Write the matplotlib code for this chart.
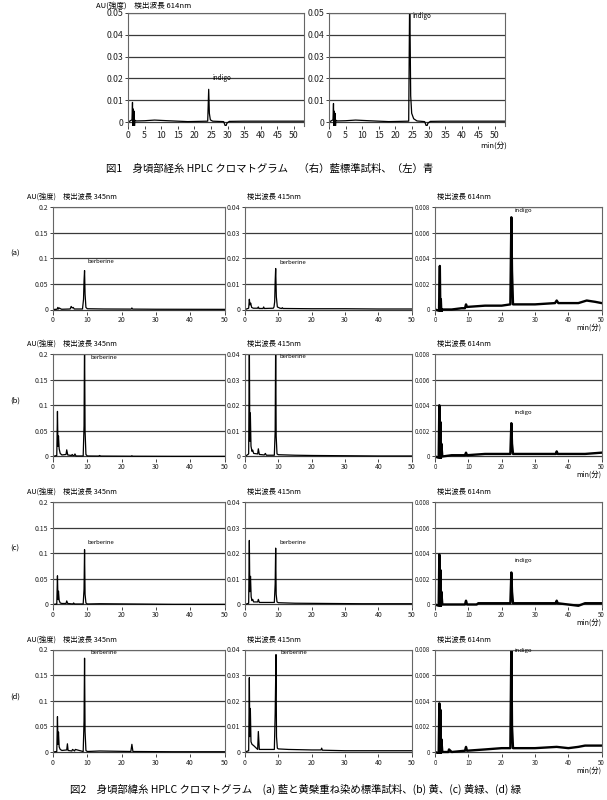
import numpy as np
import matplotlib
matplotlib.use('Agg')
import matplotlib.pyplot as plt

plt.rcParams['font.family'] = ['Noto Sans CJK JP', 'DejaVu Sans']

# ---- Fig.1 (614nm), time in min, AU
f1L_t = [0, 1.2, 1.35, 1.45, 1.55, 1.7, 1.85, 1.95, 2.1, 2.5, 5, 8, 12, 18, 24.0, 24.3, 24.5, 24.8, 25.5, 28.8, 29.4, 29.8, 30.5, 35, 45, 53]
f1L_v = [0, 0.001, 0.009, -0.002, 0.006, -0.001, 0.005, -0.002, 0.0008, 0.0005, 0.0006, 0.0009, 0.0006, 0.0002, 0.0004, 0.015, 0.004, 0.001, 0.0004, 0.0002, -0.0022, -0.0005, 0.0003, 0.0004, 0.0004, 0.0004]
f1R_t = [0, 1.2, 1.35, 1.45, 1.55, 1.7, 1.85, 1.95, 2.1, 2.5, 5, 8, 12, 18, 24.0, 24.3, 24.6, 24.9, 25.5, 26.5, 28.8, 29.4, 29.8, 30.5, 35, 45, 53]
f1R_v = [0, 0.001, 0.0085, -0.002, 0.005, -0.001, 0.004, -0.002, 0.0008, 0.0005, 0.0006, 0.0009, 0.0006, 0.0002, 0.0004, 0.06, 0.012, 0.004, 0.0015, 0.0005, 0.0002, -0.0022, -0.0005, 0.0003, 0.0004, 0.0004, 0.0004]

# ---- Fig.2 rows (a)-(d), detection 345 / 415 / 614 nm
a345_t = [0, 1.2, 1.4, 1.6, 1.8, 2.5, 5.0, 5.3, 5.6, 5.9, 6.2, 8.6, 8.9, 9.05, 9.2, 9.35, 9.6, 10, 15, 22.8, 23.0, 23.2, 30, 50]
a345_v = [0, 0.0005, 0.004, 0.001, 0.003, 0.0005, 0.001, 0.006, 0.003, 0.004, 0.001, 0.001, 0.02, 0.056, 0.076, 0.03, 0.004, 0.0015, 0.001, 0.0008, 0.003, 0.0008, 0.0005, 0.0003]
a415_t = [0, 1.1, 1.3, 1.5, 1.7, 2.0, 2.5, 3.8, 4.0, 4.2, 5.4, 5.6, 5.8, 8.5, 8.7, 8.9, 9.05, 9.2, 9.4, 9.7, 10.5, 11, 11.2, 11.4, 20, 30, 40, 50]
a415_v = [0, 0.0005, 0.004, 0.0018, 0.0025, 0.0008, 0.0005, 0.0005, 0.001, 0.0004, 0.0004, 0.001, 0.0004, 0.0005, 0.001, 0.003, 0.011, 0.016, 0.005, 0.001, 0.0005, 0.0004, 0.0007, 0.0004, 0.0003, 0.0003, 0.0002, 0.0002]
a614_t = [0, 1.2, 1.45, 1.6, 1.75, 1.9, 2.1, 5, 8, 9.0, 9.3, 9.6, 15, 20, 22.6, 22.9, 23.1, 23.4, 25, 30, 36, 36.5, 37, 40, 43, 45.5, 48, 50]
a614_v = [0, -0.0001, 0.0034, -0.0002, 0.0008, -0.0002, 0.0, 0.0, 0.0001, 0.0001, 0.0004, 0.0002, 0.0003, 0.0003, 0.0004, 0.0072, 0.003, 0.0004, 0.0004, 0.0004, 0.0005, 0.0007, 0.0005, 0.0005, 0.0005, 0.0007, 0.0006, 0.0005]

b345_t = [0, 1.1, 1.3, 1.45, 1.6, 1.8, 2.1, 2.6, 3.8, 4.0, 4.3, 5.4, 5.6, 5.8, 6.2, 6.4, 6.7, 8.8, 9.05, 9.2, 9.35, 9.6, 10, 13.3, 13.6, 13.9, 22.8, 23, 23.2, 35, 50]
b345_v = [0, 0.002, 0.088, 0.02, 0.04, 0.015, 0.006, 0.003, 0.004, 0.013, 0.003, 0.002, 0.004, 0.002, 0.002, 0.005, 0.001, 0.001, 0.06, 0.23, 0.05, 0.004, 0.001, 0.0008, 0.002, 0.0008, 0.0005, 0.0015, 0.0005, 0.0003, 0.0003]
b415_t = [0, 1.1, 1.3, 1.45, 1.6, 1.8, 2.1, 2.3, 2.6, 3.8, 4.0, 4.3, 5.8, 6.1, 6.4, 8.8, 9.05, 9.2, 9.35, 9.6, 10, 15, 20, 30, 40, 50]
b415_v = [0, 0.001, 0.045, 0.006, 0.017, 0.004, 0.002, 0.0025, 0.0012, 0.001, 0.003, 0.0008, 0.0006, 0.0012, 0.0005, 0.0005, 0.01, 0.045, 0.008, 0.001, 0.0007, 0.0005, 0.0004, 0.0003, 0.0002, 0.0002]
b614_t = [0, 1.1, 1.3, 1.45, 1.6, 1.75, 1.9, 2.2, 5, 9.0, 9.3, 9.6, 15, 20, 22.6, 22.9, 23.1, 23.4, 25, 30, 36.2, 36.5, 36.8, 45, 50]
b614_v = [0, -0.0001, 0.004, 0.0003, 0.0027, -0.0002, 0.001, 0.0, 0.0001, 0.0001, 0.0003, 0.0001, 0.0002, 0.0002, 0.0002, 0.0026, 0.001, 0.0002, 0.0002, 0.0002, 0.0002, 0.0004, 0.0002, 0.0002, 0.0003]

c345_t = [0, 1.1, 1.3, 1.45, 1.6, 1.8, 2.1, 2.6, 3.8, 4.0, 4.3, 5.8, 6.0, 6.3, 8.8, 9.05, 9.2, 9.35, 9.6, 10, 13.6, 23, 35, 50]
c345_v = [0, 0.001, 0.056, 0.01, 0.026, 0.008, 0.003, 0.002, 0.002, 0.007, 0.002, 0.001, 0.003, 0.001, 0.001, 0.03, 0.107, 0.02, 0.003, 0.001, 0.0015, 0.001, 0.0003, 0.0003]
c415_t = [0, 1.1, 1.3, 1.45, 1.65, 1.85, 2.1, 2.3, 2.6, 3.8, 4.0, 4.3, 5.6, 8.8, 9.05, 9.2, 9.35, 9.6, 10, 15, 25, 35, 50]
c415_v = [0, 0.0005, 0.025, 0.005, 0.011, 0.003, 0.0015, 0.002, 0.001, 0.001, 0.002, 0.0008, 0.0008, 0.0008, 0.008, 0.022, 0.004, 0.001, 0.0007, 0.0005, 0.0004, 0.0003, 0.0003]
c614_t = [0, 1.1, 1.3, 1.45, 1.6, 1.75, 1.9, 2.2, 5, 9.0, 9.3, 9.6, 12.5, 13, 20, 22.6, 22.9, 23.1, 23.4, 25, 30, 36.2, 36.5, 36.8, 43, 45, 50]
c614_v = [0, -0.0001, 0.0039, 0.0003, 0.0027, -0.0002, 0.001, 0.0, 0.0, 0.0, 0.0003, 0.0, 0.0, 0.0001, 0.0001, 0.0001, 0.0025, 0.001, 0.0001, 0.0001, 0.0001, 0.0001, 0.0003, 0.0001, -0.0001, 0.0001, 0.0001]

d345_t = [0, 1.1, 1.3, 1.45, 1.6, 1.8, 2.1, 2.6, 4.0, 4.2, 4.4, 5.5, 5.7, 6.3, 6.5, 8.8, 9.05, 9.2, 9.35, 9.6, 10, 13.6, 22.7, 23, 23.3, 35, 50]
d345_v = [0, 0.001, 0.069, 0.015, 0.039, 0.01, 0.005, 0.003, 0.004, 0.016, 0.003, 0.002, 0.005, 0.002, 0.005, 0.001, 0.06, 0.183, 0.04, 0.003, 0.001, 0.002, 0.001, 0.015, 0.001, 0.0005, 0.0005]
d415_t = [0, 1.1, 1.3, 1.45, 1.6, 1.8, 2.1, 2.6, 3.8, 4.0, 4.3, 5.6, 8.8, 9.05, 9.3, 9.45, 9.7, 10, 13, 20, 22.8, 23, 23.2, 30, 40, 50]
d415_v = [0, 0.0005, 0.029, 0.006, 0.017, 0.004, 0.003, 0.0025, 0.001, 0.008, 0.001, 0.001, 0.001, 0.015, 0.038, 0.006, 0.0015, 0.0012, 0.001, 0.0008, 0.0008, 0.0015, 0.0007, 0.0005, 0.0005, 0.0005]
d614_t = [0, 1.1, 1.3, 1.45, 1.6, 1.75, 1.9, 2.2, 4, 4.2, 5, 9.0, 9.3, 9.6, 15, 20, 22.6, 22.9, 23.1, 23.4, 25, 30, 36.5, 40, 43, 45, 50]
d614_v = [0, -0.0001, 0.0038, 0.0003, 0.0033, -0.0002, 0.001, 0.0, 0.0, 0.0002, 0.0, 0.0001, 0.0004, 0.0001, 0.0002, 0.0003, 0.0003, 0.0085, 0.002, 0.0003, 0.0003, 0.0003, 0.0004, 0.0003, 0.0004, 0.0005, 0.0005]

row_labels = ['(a)', '(b)', '(c)', '(d)']
nm_titles = ['検出波長 345nm', '検出波長 415nm', '検出波長 614nm']
yticks_345 = [0, 0.05, 0.1, 0.15, 0.2]
yticks_415 = [0, 0.01, 0.02, 0.03, 0.04]
yticks_614 = [0, 0.002, 0.004, 0.006, 0.008]
peak_names = [['berberine', 'berberine', 'indigo']] * 4
peak_pos = [[(10.2, 0.088), (10.2, 0.0172), (24, 0.00755)],
            [(10.8, 0.188), (10.2, 0.038), (24, 0.0032)],
            [(10.2, 0.117), (10.2, 0.0234), (24, 0.0032)],
            [(10.8, 0.189), (10.5, 0.0378), (24, 0.0077)]]

W, H = 607, 800
fig = plt.figure(figsize=(W/100, H/100), dpi=100)

def px_axes(x0, x1, ytop, ybot):
	return fig.add_axes([x0/W, 1 - ybot/H, (x1 - x0)/W, (ybot - ytop)/H])

def style(ax, xlim, xticks, yticks, ylabels, fs):
	ax.set_xlim(*xlim)
	ax.set_xticks(xticks)
	ax.set_yticks(yticks)
	ax.set_yticklabels(ylabels)
	ax.grid(axis='y', color='#3a3a3a', linewidth=0.9)
	ax.set_axisbelow(True)
	ax.spines['bottom'].set_visible(False)
	for s in ['left', 'right', 'top']:
		ax.spines[s].set_color('#666666')
		ax.spines[s].set_linewidth(0.8)
	ax.tick_params(labelsize=fs, length=2, width=0.6, pad=1.5, colors='#222222')

def txt(x, y, s, **kw):
	fig.text(x/W, 1 - y/H, s, **kw)

# Fig.1
f1_yt = [0, 0.01, 0.02, 0.03, 0.04, 0.05]
f1_yl = ['0', '0.01', '0.02', '0.03', '0.04', '0.05']
for x0, t, v, lab in [(128, f1L_t, f1L_v, (25.6, 0.0185)), (329, f1R_t, f1R_v, (25.3, 0.047))]:
	ax = px_axes(x0, x0 + 176, 13, 126.4)
	ax.plot(t, v, color='black', linewidth=0.9)
	ax.set_ylim(-0.002, 0.05)
	style(ax, (0, 53), range(0, 55, 5), f1_yt, f1_yl, 6.3)
	ax.text(lab[0], lab[1], 'indigo', fontsize=4.5, va='bottom')

txt(96, 6, 'AU(強度)　検出波長 614nm', fontsize=5.5, va='center')
txt(507, 146, 'min(分)', fontsize=5.5, va='center', ha='right')
txt(106, 169, '図1　身頃部経糸 HPLC クロマトグラム　（右）藍標準試料、（左）青', fontsize=7.5, va='center')

# Fig.2
traces = [[(a345_t, a345_v), (a415_t, a415_v), (a614_t, a614_v)],
          [(b345_t, b345_v), (b415_t, b415_v), (b614_t, b614_v)],
          [(c345_t, c345_v), (c415_t, c415_v), (c614_t, c614_v)],
          [(d345_t, d345_v), (d415_t, d415_v), (d614_t, d614_v)]]
col_x = [(53, 224.5), (245, 411.7), (435, 601.7)]
row_top = [207, 354, 502, 649.5]
zero_h = 102.5
col_ticks = [(yticks_345, ['0', '0.05', '0.1', '0.15', '0.2']),
             (yticks_415, ['0', '0.01', '0.02', '0.03', '0.04']),
             (yticks_614, ['0', '0.002', '0.004', '0.006', '0.008'])]

for r in range(4):
	for c in range(3):
		yt, yl = col_ticks[c]
		top = yt[-1]
		low = -0.02*top
		ax = px_axes(col_x[c][0], col_x[c][1], row_top[r], row_top[r] + zero_h*1.02)
		t, v = traces[r][c]
		ax.plot(t, v, color='black', linewidth=1.7 if c == 2 else 0.9)
		ax.set_ylim(low, top)
		style(ax, (0, 50), [0, 10, 20, 30, 40, 50], yt, yl, 5 if c < 2 else 4.5)
		px, py = peak_pos[r][c]
		ax.text(px, py, peak_names[r][c], fontsize=4.3, va='bottom')
		tx = 27 if c == 0 else col_x[c][0] + 2
		title = ('AU(強度)　' + nm_titles[c]) if c == 0 else nm_titles[c]
		txt(tx, row_top[r] - 10, title, fontsize=5.2, va='center')
	txt(10, row_top[r] + 47, row_labels[r], fontsize=5.5, va='center')
	txt(601, row_top[r] + 121, 'min(分)', fontsize=5.2, va='center', ha='right')

txt(70, 789, '図2　身頃部緯糸 HPLC クロマトグラム　(a) 藍と黄檗重ね染め標準試料、(b) 黄、(c) 黄緑、(d) 緑', fontsize=7.5, va='center')

fig.savefig('out.png', dpi=100)
